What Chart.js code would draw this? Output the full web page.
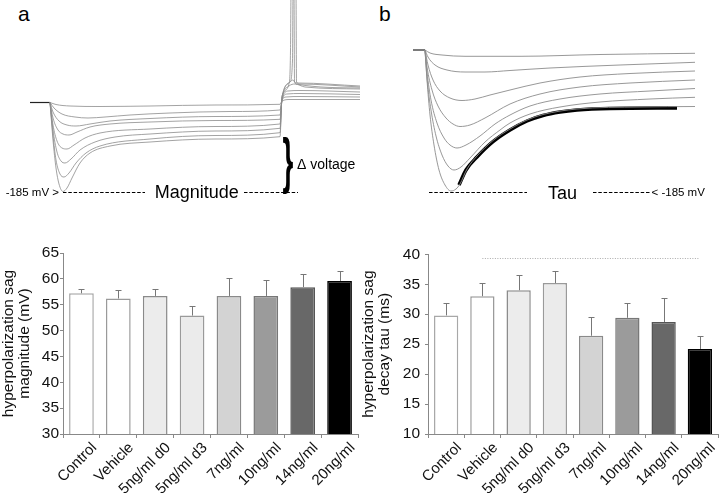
<!DOCTYPE html>
<html><head><meta charset="utf-8">
<script src="https://cdn.jsdelivr.net/npm/chart.js@4/dist/chart.umd.min.js"></script>
<style>
html,body{margin:0;padding:0;background:#fff;}
body{width:720px;height:493px;position:relative;overflow:hidden;font-family:"Liberation Sans",Arial,sans-serif;}
canvas{position:absolute;}
.lbl{position:absolute;font-size:21px;color:#000;line-height:1;}
</style></head><body>
<div class="lbl" style="left:18px;top:3px">a</div>
<div class="lbl" style="left:379px;top:3px">b</div>
<canvas id="ta" width="360" height="220" style="left:0;top:0"></canvas>
<canvas id="tb" width="360" height="220" style="left:360px;top:0"></canvas>
<canvas id="ba" width="360" height="253" style="left:0;top:240px"></canvas>
<canvas id="bb" width="360" height="253" style="left:360px;top:240px"></canvas>
<script>
// ---------- Panel a: voltage traces, [time (ms), membrane potential (mV)] ----------
const aBaseline = [[-80,-50],[0,-50]];
const aTrace1 = [[0,-50],[24,-53],[80,-55.25],[200,-56],[400,-55.25],[660,-53.75],[920,-52.7],[928,-47.75],[960,-45.5],[1080,-45.5],[1240,-45.5]];
const aTrace2 = [[0,-50],[16,-58.25],[48,-67.25],[100,-71.75],[152,-73.25],[220,-71.75],[320,-68.75],[480,-65.75],[720,-63.5],[920,-61.25],[928,-46.25],[944,-41.75],[1000,-41],[1240,-41.75]];
const aTrace3 = [[0,-50],[12,-64.25],[36,-77.75],[68,-83.75],[104,-85.25],[160,-82.25],[240,-77.75],[400,-74],[660,-71],[920,-68.75],[928,-46.25],[948,-37.25],[1000,-36.5],[1240,-38]];
const aTrace4 = [[0,-50],[12,-73.25],[32,-91.25],[52,-97.25],[76,-98.75],[108,-94.25],[160,-86.75],[240,-82.25],[400,-79.25],[660,-77],[920,-75.2],[928,-46.25],[952,-32.75],[1000,-32],[1240,-34.25]];
const aTrace5 = [[0,-50],[12,-83.75],[28,-107.75],[48,-118.25],[68,-119.75],[96,-113.75],[140,-103.25],[200,-95.75],[400,-89.75],[660,-86],[920,-82.25],[928,-44.75],[956,-25.25],[980,-22.25],[1020,-26.75],[1240,-29.75]];
const aTrace6 = [[0,-50],[12,-91.25],[28,-124.25],[44,-137.75],[60,-140.75],[84,-134.75],[120,-121.25],[180,-109.25],[260,-101.75],[400,-97.25],[660,-92.75],[920,-88.7],[928,-43.25],[960,-19.25],[972,-16.25],[984,-22.25],[1240,-28.25]];
const aTrace7 = [[0,-50],[12,-98.75],[24,-136.25],[40,-157.25],[56,-161.75],[76,-155.75],[104,-140.75],[144,-125.75],[200,-115.25],[400,-104.75],[660,-99.5],[920,-95.3],[928,-41.75],[960,-19.25],[970,13.75],[972,110],[984,110],[986,-19.25],[1000,-22.25],[1240,-26.75]];
const aTrace8 = [[0,-50],[12,-106.25],[24,-148.25],[36,-172.25],[52,-183.5],[68,-178.25],[88,-163.25],[120,-140.75],[160,-125.75],[240,-115.25],[400,-109.25],[660,-104.75],[920,-101.3],[928,-40.25],[956,-22.25],[962,28.75],[964,110],[976,110],[978,-19.25],[992,-20.75],[1240,-25.25]];
const aDash1 = [[52,-185],[380,-185]];
const aDash2 = [[776,-185],[992,-185]];

// ---------- Panel b: voltage traces with decay fit ----------
const bBaseline = [[-24,-42.5],[0,-42.5]];
const bTrace1 = [[0,-42.5],[10,-45.5],[34,-47.5],[80,-48.8],[190,-48.8],[350,-47],[540,-45.8]];
const bTrace2 = [[0,-42.5],[6,-49.5],[20,-57.5],[44,-62.5],[80,-64.5],[120,-64.5],[170,-63],[250,-60.5],[390,-57.5],[540,-54.8]];
const bTrace3 = [[0,-42.5],[6,-57.5],[16,-72.5],[30,-83.5],[50,-90.5],[74,-93],[100,-91.5],[130,-87.5],[170,-82.5],[230,-75.5],[310,-69.5],[410,-66],[540,-63.5]];
const bTrace4 = [[0,-42.5],[4,-59.5],[14,-82.5],[26,-98.5],[42,-110.5],[56,-116.5],[70,-119],[90,-117.5],[120,-110.5],[170,-96.5],[230,-86.5],[310,-79.5],[410,-75.5],[540,-72.5]];
const bTrace5 = [[0,-42.5],[4,-64.5],[12,-92.5],[24,-115.5],[38,-130.5],[50,-137.5],[64,-140.5],[82,-137.5],[110,-128.5],[140,-116.5],[170,-107.5],[210,-98.5],[270,-91.5],[350,-86.5],[450,-83.5],[540,-81]];
const bTrace6 = [[0,-42.5],[4,-70.5],[12,-102.5],[22,-128.5],[34,-147.5],[46,-158.5],[58,-162.5],[72,-159.5],[90,-150.5],[120,-134.5],[150,-122.5],[170,-115.5],[210,-106.5],[270,-99.5],[350,-94.5],[450,-91.5],[540,-89.8]];
const bTrace7 = [[0,-42.5],[4,-72.5],[10,-107.5],[18,-137.5],[28,-162.5],[40,-177.5],[52,-183.5],[62,-181.5],[70,-176.5],[84,-161.5],[104,-148.5],[136,-133],[170,-121.5],[204,-112.5],[236,-107],[304,-101.5],[430,-99.5],[540,-99]];
const bFit = [[68,-177.5],[82,-162.5],[104,-149.5],[136,-134.2],[170,-122.5],[204,-113.5],[236,-108],[270,-104.5],[304,-102.5],[370,-101],[504,-100.5]];
const bDash1 = [[8,-185],[204,-185]];
const bDash2 = [[336,-185],[450,-185]];

// ---------- Bar charts ----------
const categories = ['Control','Vehicle','5ng/ml d0','5ng/ml d3','7ng/ml','10ng/ml','14ng/ml','20ng/ml'];
const sagMagnitude    = [57.2, 56.2, 56.7, 52.9, 56.7, 56.7, 58.4, 59.6];
const sagMagnitudeErr = [0.75, 1.6, 1.3, 1.8, 3.4, 3.1, 2.5, 1.9];
const decayTau        = [29.8, 33.0, 34.0, 35.2, 26.4, 29.4, 28.7, 24.2];
const decayTauErr     = [2.1, 2.2, 2.6, 2.0, 3.1, 2.5, 4.0, 2.1];
const sigLine         = [null, 39.3, 39.3, 39.3, 39.3, 39.3, 39.3, 39.3];
const magTicks = [30, 65, 5];
const tauTicks = [10, 40, 5];

const FONT = '"Liberation Sans", Arial, sans-serif';
const barFill   = ['#ffffff','#ffffff','#ececec','#ebebeb','#d3d3d3','#9b9b9b','#686868','#000000'];
const barBorder = ['#a8a8a8','#9a9a9a','#8a8a8a','#9a9a9a','#8a8a8a','#777777','#555555','#000000'];

const xy = a => a.map(p => ({x:p[0], y:p[1]}));

function makeAnnot(items){
  return {
    id:'annot',
    afterDatasetsDraw(chart){
      const ctx = chart.ctx, sx = chart.scales.x, sy = chart.scales.y;
      items.forEach(it => {
        ctx.save();
        ctx.fillStyle = '#000';
        if (it.brace) {
          ctx.font = 'bold 100px ' + FONT;
          ctx.textAlign = 'left'; ctx.textBaseline = 'alphabetic';
          const m = ctx.measureText('}');
          const gh = m.actualBoundingBoxAscent + m.actualBoundingBoxDescent;
          const gw = m.actualBoundingBoxLeft + m.actualBoundingBoxRight;
          const x0 = sx.getPixelForValue(it.t0), x1 = sx.getPixelForValue(it.t1);
          const y0 = sy.getPixelForValue(it.v0), y1 = sy.getPixelForValue(it.v1);
          ctx.translate(x0, y0);
          ctx.scale((x1 - x0) / gw, (y1 - y0) / gh);
          ctx.fillText('}', m.actualBoundingBoxLeft, m.actualBoundingBoxAscent);
        } else {
          ctx.font = it.size + 'px ' + FONT;
          ctx.textAlign = it.align; ctx.textBaseline = it.base;
          ctx.fillText(it.text, sx.getPixelForValue(it.t), sy.getPixelForValue(it.v));
        }
        ctx.restore();
      });
    }
  };
}

function traceSet(a, color, w){
  return {data: xy(a), showLine:true, borderColor: color, borderWidth: w, pointRadius:0,
          cubicInterpolationMode:'monotone', fill:false};
}
function dashSet(a){
  return {data: xy(a), showLine:true, borderColor:'#000', borderWidth:1, borderDash:[3.5,1.8], pointRadius:0, tension:0};
}

function traceChart(id, datasets, xr, yr, items){
  return new Chart(document.getElementById(id), {
    type:'scatter',
    data:{datasets},
    options:{
      responsive:false, animation:false, devicePixelRatio:1,
      layout:{padding:0},
      plugins:{legend:{display:false}, tooltip:{enabled:false}},
      scales:{
        x:{type:'linear', display:false, min:xr[0], max:xr[1]},
        y:{type:'linear', display:false, min:yr[0], max:yr[1]}
      }
    },
    plugins:[makeAnnot(items)]
  });
}

const TR = '#8c8c8c';
traceChart('ta', [
  traceSet(aTrace1,TR,0.8), traceSet(aTrace2,TR,0.8), traceSet(aTrace3,TR,0.8), traceSet(aTrace4,TR,0.8),
  traceSet(aTrace5,TR,0.8), traceSet(aTrace6,TR,0.8), traceSet(aTrace7,TR,0.8), traceSet(aTrace8,TR,0.8),
  traceSet(aBaseline,'#222',1.2), dashSet(aDash1), dashSet(aDash2)
], [-200,1240], [-226.25,103.75], [
  {text:'-185 mV >', t:36, v:-185, size:11.5, align:'right', base:'middle'},
  {text:'Magnitude', t:587, v:-193.7, size:18, align:'center', base:'alphabetic'},
  {text:'\u0394 voltage', t:988, v:-149, size:14, align:'left', base:'alphabetic'},
  {brace:true, t0:932, t1:972, v0:-101.75, v1:-187.25}
]);

traceChart('tb', [
  traceSet(bTrace1,TR,0.9), traceSet(bTrace2,TR,0.9), traceSet(bTrace3,TR,0.9), traceSet(bTrace4,TR,0.9),
  traceSet(bTrace5,TR,0.9), traceSet(bTrace6,TR,0.9), traceSet(bTrace7,TR,0.9),
  traceSet(bFit,'#000',3.5), traceSet(bBaseline,'#222',1.2), dashSet(bDash1), dashSet(bDash2)
], [-130,590], [-212.5,7.5], [
  {text:'Tau', t:275, v:-191.5, size:18, align:'center', base:'alphabetic'},
  {text:'< -185 mV', t:453, v:-185, size:11.5, align:'left', base:'middle'}
]);

function makeErrorBars(errs){
  return {
    id:'errorBars',
    afterDatasetsDraw(chart){
      const ctx = chart.ctx, sy = chart.scales.y;
      const meta = chart.getDatasetMeta(0);
      const vals = chart.data.datasets[0].data;
      ctx.save();
      ctx.strokeStyle = '#777'; ctx.lineWidth = 1;
      meta.data.forEach((bar, i) => {
        const x = Math.round(bar.x) + 0.5;
        const yt = Math.round(sy.getPixelForValue(vals[i] + errs[i])) + 0.5;
        ctx.beginPath();
        ctx.moveTo(x, bar.y); ctx.lineTo(x, yt);
        ctx.moveTo(x - 3, yt); ctx.lineTo(x + 3, yt);
        ctx.stroke();
      });
      ctx.restore();
    }
  };
}

function barChart(id, values, errs, ticks, title, yWidth, yPad, extra){
  const datasets = [{type:'bar', data: values, backgroundColor: barFill, borderColor: barBorder,
    borderWidth:1.5, barPercentage:0.67, categoryPercentage:1, order:2}];
  if (extra) datasets.push(extra);
  return new Chart(document.getElementById(id), {
    type:'bar',
    data:{labels: categories, datasets},
    options:{
      responsive:false, animation:false, devicePixelRatio:1,
      layout:{padding:{top:13, right:2, left:0, bottom:0}},
      plugins:{legend:{display:false}, tooltip:{enabled:false}},
      scales:{
        x:{offset:true,
           grid:{offset:true, drawOnChartArea:false, drawTicks:true, tickLength:4, color:'#888'},
           border:{color:'#888', width:1},
           ticks:{maxRotation:45, minRotation:45, autoSkip:false, labelOffset:13, padding:1,
                  color:'#111', font:{family:FONT, size:15}},
           afterFit(s){ s.height = 59; }},
        y:{min:ticks[0], max:ticks[1],
           grid:{drawOnChartArea:false, drawTicks:true, tickLength:3, color:'#888'},
           border:{color:'#888', width:1},
           ticks:{stepSize:ticks[2], padding:yPad, color:'#111', font:{family:FONT, size:15.5}},
           title:{display:true, text:title, color:'#111', font:{family:FONT, size:15.5, lineHeight:1.07}, padding:{top:0,bottom:0}},
           afterFit(s){ s.width = yWidth; }}
      }
    },
    plugins:[makeErrorBars(errs)]
  });
}

barChart('ba', sagMagnitude, sagMagnitudeErr, magTicks, ['hyperpolarization sag','magnitude (mV)'], 63, 1, null);
barChart('bb', decayTau, decayTauErr, tauTicks, ['hyperpolarization sag','decay tau (ms)'], 68, 5,
  {type:'line', data: sigLine, borderColor:'#aaa', borderWidth:1, borderDash:[1,1.5], pointRadius:0, order:1, spanGaps:false});
</script>
</body></html>
